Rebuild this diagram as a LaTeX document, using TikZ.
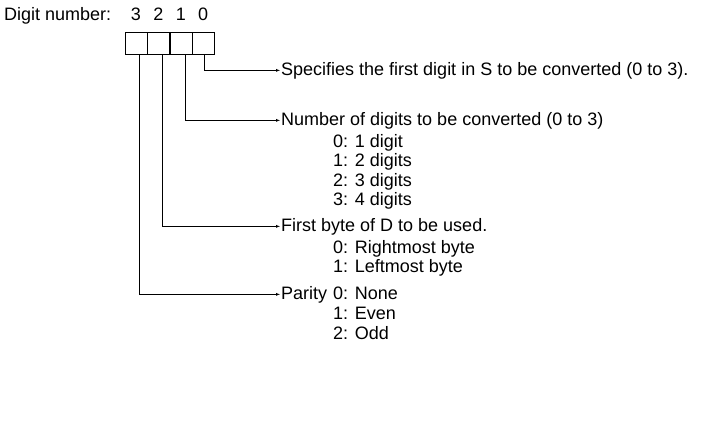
\documentclass[tikz,border=0pt]{standalone}
\usepackage{fontspec}
\setmainfont{Liberation Sans}
\usetikzlibrary{arrows, positioning}
\begin{document}
\begin{tikzpicture}[x=1pt, y=-1pt, ->, >=latex, thin, font=\fontsize{18}{20}\selectfont,
    digit box/.style={rectangle, draw, minimum width=22pt, minimum height=22pt, inner sep=0pt},
    txt/.style={anchor=base west, inner sep=1pt},
    item/.style={anchor=base west, inner sep=0pt}]
    \useasboundingbox (0,0) rectangle (723,437);
    \node[txt] (lbl) at (3,20) {Digit number:};
    \node[digit box] (B3) at (136,43) {};
    \node[digit box, right=0pt of B3] (B2) {};
    \node[digit box, right=0pt of B2] (B1) {};
    \node[digit box, right=0pt of B1] (B0) {};
    \foreach \b/\d in {B3/3, B2/2, B1/1, B0/0}
        \node[anchor=base] (n\d) at (\b.center |- lbl.base) {\d};
    % descriptions
    \node[txt] (S) at (280,75) {Specifies the first digit in S to be converted (0 to 3).};
    \node[txt] (N) at (280,125) {Number of digits to be converted (0 to 3)};
    \node[item] (N0) at (333,147) {0: 1 digit};
    \node[item] (N1) at (333,166) {1: 2 digits};
    \node[item] (N2) at (333,186) {2: 3 digits};
    \node[item] (N3) at (333,205) {3: 4 digits};
    \node[txt] (F) at (280,231) {First byte of D to be used.};
    \node[item] (F0) at (333,253) {0: Rightmost byte};
    \node[item] (F1) at (333,272) {1: Leftmost byte};
    \node[txt] (P) at (280,299) {Parity};
    \node[item] (P0) at (333,299) {0: None};
    \node[item] (P1) at (333,319) {1: Even};
    \node[item] (P2) at (333,339) {2: Odd};
    % connectors
    \draw ([xshift=1pt]B0.south) |- (S.west);
    \draw ([xshift=4pt]B1.south) |- (N.west);
    \draw ([xshift=4pt]B2.south) |- (F.west);
    \draw ([xshift=3pt]B3.south) |- (P.west);
\end{tikzpicture}
\end{document}
